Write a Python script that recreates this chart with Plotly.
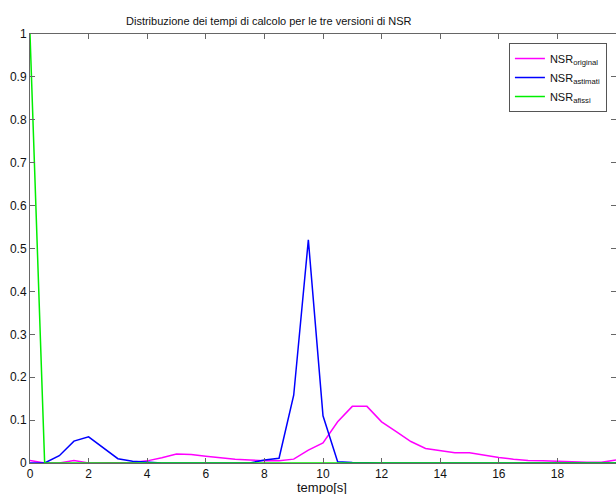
import plotly.graph_objects as go

# Time bins (s), step 0.5 from 0 to 20
tempo = [i * 0.5 for i in range(41)]

# Relative frequency of computation times for each NSR version
nsr_original = [0.006, 0.0, 0.0, 0.006, 0.0, 0.0, 0.0, 0.001, 0.005, 0.012,
                0.021, 0.020, 0.016, 0.012, 0.009, 0.007, 0.005, 0.005, 0.009, 0.030,
                0.047, 0.096, 0.132, 0.132, 0.096, 0.073, 0.050, 0.034, 0.029, 0.024,
                0.024, 0.018, 0.013, 0.009, 0.006, 0.005, 0.004, 0.0015, 0.0015, 0.0015,
                0.007]
nsr_astimati = [0.0, 0.0, 0.017, 0.051, 0.061, 0.035, 0.010, 0.004, 0.0015, 0.0,
                0.0, 0.0, 0.0, 0.0, 0.0, 0.0, 0.007, 0.011, 0.158, 0.520,
                0.110, 0.003, 0.001, 0.0, 0.0, 0.0, 0.0, 0.0, 0.0, 0.0,
                0.0, 0.0, 0.0, 0.0, 0.0, 0.0, 0.0, 0.0, 0.0, 0.0,
                0.0]
nsr_afissi = [1.0] + [0.0] * 40

x_ticks = [0, 2, 4, 6, 8, 10, 12, 14, 16, 18, 20]
y_ticks = [0, 0.1, 0.2, 0.3, 0.4, 0.5, 0.6, 0.7, 0.8, 0.9, 1]
y_ticklabels = ["0", "0.1", "0.2", "0.3", "0.4", "0.5", "0.6", "0.7", "0.8", "0.9", "1"]

FONT = "Liberation Sans, Arial, sans-serif"

fig = go.Figure()
fig.add_trace(go.Scatter(x=tempo, y=nsr_original, mode="lines",
                         name="NSR<sub>original</sub>",
                         line=dict(color="#ff00ff", width=1.5)))
fig.add_trace(go.Scatter(x=tempo, y=nsr_astimati, mode="lines",
                         name="NSR<sub>astimati</sub>",
                         line=dict(color="#0000ff", width=1.5)))
fig.add_trace(go.Scatter(x=tempo, y=nsr_afissi, mode="lines",
                         name="NSR<sub>afissi</sub>",
                         line=dict(color="#00ee00", width=1.5)))

axis_common = dict(showgrid=False, zeroline=False, showline=True, mirror="ticks",
                   linecolor="#666666", linewidth=1, ticks="inside", ticklen=5,
                   tickcolor="#666666",
                   tickfont=dict(family=FONT, size=12, color="#111111"))

fig.update_xaxes(range=[0, 20], tickvals=x_ticks, ticktext=[str(t) for t in x_ticks],
                 **axis_common)
fig.update_yaxes(range=[0, 1], tickvals=y_ticks, ticktext=y_ticklabels, **axis_common)

fig.update_layout(
    width=616, height=494,
    margin=dict(l=30, r=0, t=34, b=31),
    paper_bgcolor="white", plot_bgcolor="white",
    font=dict(family=FONT, size=12, color="#111111"),
    showlegend=True,
    legend=dict(x=0.9845, y=0.979, xanchor="right", yanchor="top",
                bgcolor="white", bordercolor="#555555", borderwidth=1,
                font=dict(family=FONT, size=11, color="#111111"),
                tracegroupgap=0, itemwidth=30),
    annotations=[
        dict(text="Distribuzione dei tempi di calcolo per le tre versioni di NSR",
             xref="paper", yref="paper", x=0.408, y=1.031, xanchor="center",
             yanchor="middle", showarrow=False,
             font=dict(family=FONT, size=11, color="#111111")),
        dict(text="tempo[s]", xref="paper", yref="paper", x=0.499, y=-0.058,
             xanchor="center", yanchor="middle", showarrow=False,
             font=dict(family=FONT, size=13, color="#111111")),
    ],
)

fig.write_html("out.html")
